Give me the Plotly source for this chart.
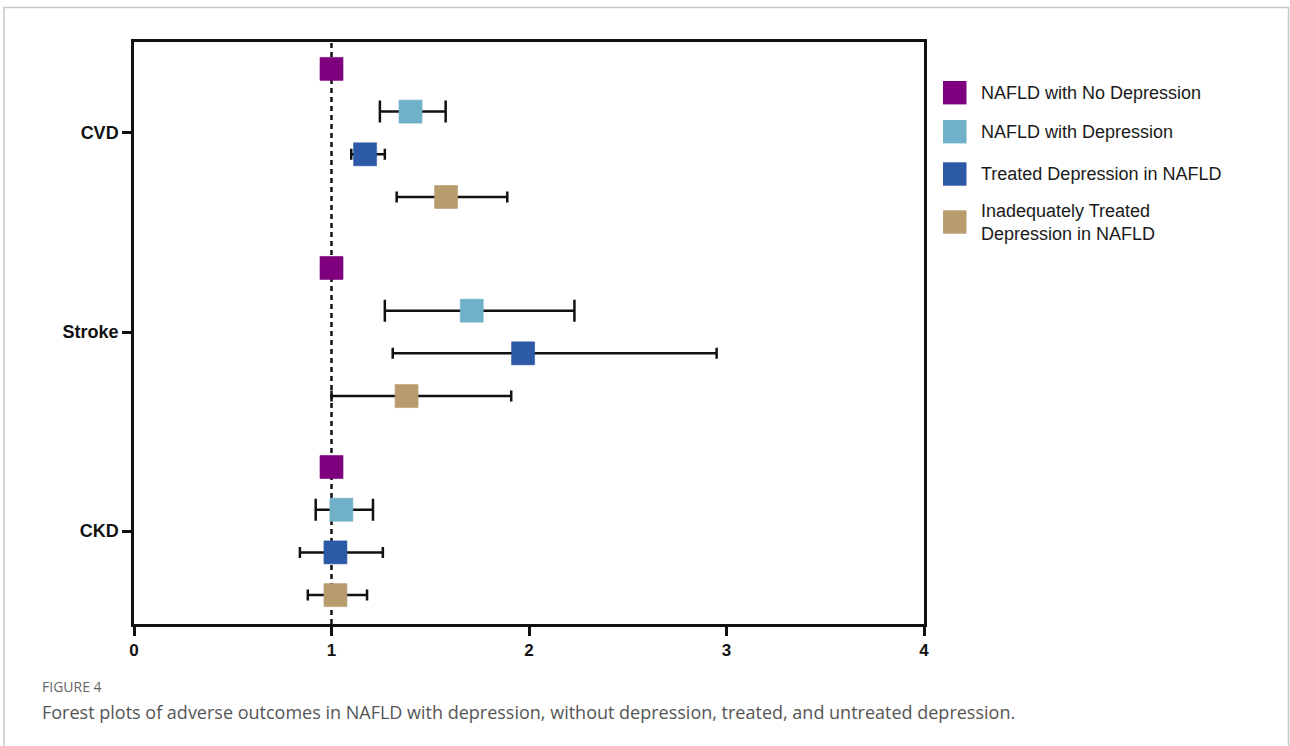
import plotly.graph_objects as go

# ---- data ----
categories = ["CVD", "Stroke", "CKD"]
series_names = [
    "NAFLD with No Depression",
    "NAFLD with Depression",
    "Treated Depression in NAFLD",
    "Inadequately Treated<br>Depression in NAFLD",
]
colors = ["#7e007e", "#70b0c8", "#2c5aa6", "#b89c6e"]

no_dep_hr = [1.0, 1.0, 1.0]
no_dep_lo = [1.0, 1.0, 1.0]
no_dep_hi = [1.0, 1.0, 1.0]

dep_hr = [1.40, 1.71, 1.05]
dep_lo = [1.245, 1.27, 0.92]
dep_hi = [1.578, 2.23, 1.21]

treated_hr = [1.17, 1.97, 1.02]
treated_lo = [1.10, 1.31, 0.84]
treated_hi = [1.27, 2.95, 1.26]

inadequate_hr = [1.58, 1.38, 1.02]
inadequate_lo = [1.33, 1.00, 0.88]
inadequate_hi = [1.89, 1.91, 1.18]

x_ticks = [0, 1, 2, 3, 4]

series = [
    (no_dep_hr, no_dep_lo, no_dep_hi),
    (dep_hr, dep_lo, dep_hi),
    (treated_hr, treated_lo, treated_hi),
    (inadequate_hr, inadequate_lo, inadequate_hi),
]
cap_widths = [0, 11, 5.5, 5.5]

# ---- layout geometry (pixels) ----
W, H = 1290, 746
L, R, T, B = 134, 924, 42, 624
PW, PH = R - L, B - T

def px_x(p):
    return (p - L) / PW

def px_y(p):
    return (B - p) / PH

step = 0.2145
fig = go.Figure()
for i, (hr, lo, hi) in enumerate(series):
    ys = [c + (i - 1.5) * step for c in range(len(categories))]
    err = None
    if cap_widths[i] > 0:
        err = dict(
            type="data", symmetric=False,
            array=[h - v for h, v in zip(hi, hr)],
            arrayminus=[v - l for l, v in zip(lo, hr)],
            color="#111111", thickness=2.5, width=cap_widths[i],
        )
    fig.add_trace(go.Scatter(
        x=hr, y=ys, mode="markers", name=series_names[i],
        marker=dict(symbol="square", size=23, color=colors[i],
                    line=dict(width=0.6, color=colors[i])),
        error_x=err, showlegend=False, cliponaxis=False,
    ))

shapes = [
    # outer frame
    dict(type="rect", xref="paper", yref="paper",
         x0=px_x(4), x1=px_x(1288.5), y0=px_y(760), y1=px_y(7.5),
         line=dict(color="#c8c8c8", width=1.5), layer="below"),
    # reference line at 1
    dict(type="line", xref="x", yref="paper", x0=1, x1=1, y0=0, y1=1,
         line=dict(color="#111111", width=2.5, dash="5px,4px"), layer="below"),
]

annotations = []
# legend (manual)
leg_centers = [92.7, 131.7, 174, 222]
for i, name in enumerate(series_names):
    cy = leg_centers[i]
    shapes.append(dict(type="rect", xref="paper", yref="paper",
                       x0=px_x(943), x1=px_x(966.5),
                       y0=px_y(cy + 11.7), y1=px_y(cy - 11.7),
                       fillcolor=colors[i], line=dict(width=0)))
    annotations.append(dict(
        x=px_x(979), y=px_y(cy), xref="paper", yref="paper",
        xanchor="left", yanchor="middle", align="left", showarrow=False,
        text=name, font=dict(family="Arial, Liberation Sans, sans-serif",
                             size=18, color="#1a1a1a"),
    ))

annotations.append(dict(
    x=px_x(40), y=px_y(686), xref="paper", yref="paper",
    xanchor="left", yanchor="middle", showarrow=False,
    text="FIGURE 4", font=dict(family="Open Sans, sans-serif", size=14, color="#666666"),
))
annotations.append(dict(
    x=px_x(40), y=px_y(712), xref="paper", yref="paper",
    xanchor="left", yanchor="middle", showarrow=False,
    text="Forest plots of adverse outcomes in NAFLD with depression, without depression, treated, and untreated depression.",
    font=dict(family="Open Sans, sans-serif", size=18, color="#555555"),
))

fig.update_layout(
    width=W, height=H,
    margin=dict(l=L, r=W - R, t=T, b=H - B, pad=0),
    paper_bgcolor="white", plot_bgcolor="white",
    shapes=shapes, annotations=annotations,
    xaxis=dict(
        range=[0, 4], tickvals=x_ticks, ticktext=[str(t) for t in x_ticks],
        showgrid=False, zeroline=False,
        showline=True, linecolor="#111111", linewidth=3, mirror=True,
        ticks="outside", ticklen=9, tickwidth=2.5, tickcolor="#111111",
        tickfont=dict(family="Arial, Liberation Sans, sans-serif", size=17,
                      color="#111111", weight="bold"),
    ),
    yaxis=dict(
        range=[len(categories) - 1 + 0.467, -0.457],
        tickvals=list(range(len(categories))), ticktext=categories,
        showgrid=False, zeroline=False,
        showline=True, linecolor="#111111", linewidth=2.5, mirror=True,
        ticks="outside", ticklen=9, tickwidth=2.5, tickcolor="#111111",
        ticklabelstandoff=0,
        tickfont=dict(family="Arial, Liberation Sans, sans-serif", size=18,
                      color="#111111", weight="bold"),
    ),
)

fig.write_html("out.html")
